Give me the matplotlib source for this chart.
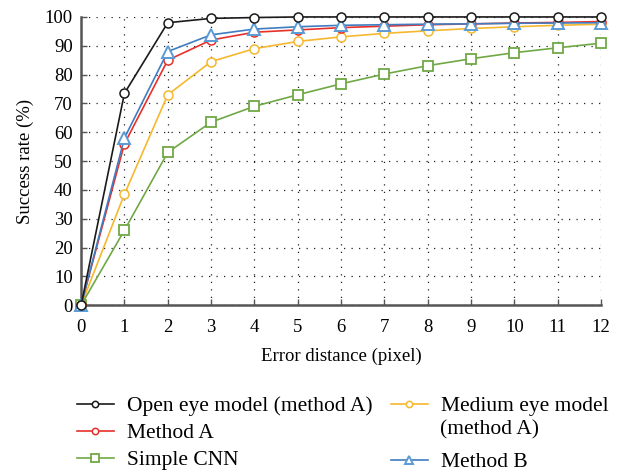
import matplotlib
matplotlib.use("Agg")
import matplotlib.pyplot as plt

plt.rcParams['font.family'] = ['Liberation Serif', 'DejaVu Serif']

x = list(range(13))
open_eye = [0, 73.5, 98, 99.5, 99.8, 100, 100, 100, 100, 100, 100, 100, 100]
method_a = [0, 56, 85, 92, 94.7, 95.5, 96.3, 96.8, 97.3, 97.6, 97.9, 98.1, 98.4]
simple_cnn = [0, 26, 53, 63.5, 69, 73, 76.8, 80.2, 83.1, 85.5, 87.6, 89.3, 90.9]
medium_eye = [0, 38.5, 73, 84.5, 89, 91.5, 93.1, 94.3, 95.2, 96, 96.6, 97.1, 97.5]
method_b = [0, 58, 88, 93.8, 95.8, 96.6, 97.1, 97.3, 97.5, 97.6, 97.8, 97.9, 98]

labels_col1 = ["Open eye model (method A)", "Method A", "Simple CNN"]
label_medium = "Medium eye model"
label_medium_2 = "(method A)"
label_b = "Method B"

W, H = 619, 471
fig = plt.figure(figsize=(W / 100, H / 100), dpi=100)
ax = fig.add_axes([0.131, 0.352, 0.840, 0.612])

lw = 1.2
h_open, = ax.plot(x, open_eye, color='#1a1a1a', lw=lw, marker='o', ms=6.5,
                  mfc='white', mec='#1a1a1a', mew=1.1, clip_on=False, zorder=6)
h_med, = ax.plot(x, medium_eye, color='#f5b82e', lw=lw, marker='o', ms=6.5,
                 mfc='white', mec='#f5b82e', mew=1.1, clip_on=False, zorder=3)
h_cnn, = ax.plot(x, simple_cnn, color='#70a845', lw=lw, marker='s', ms=7.5,
                 mfc='white', mec='#70a845', mew=1.3, clip_on=False, zorder=3)
h_a, = ax.plot(x, method_a, color='#e8302a', lw=lw, marker='o', ms=6.5,
               mfc='white', mec='#e8302a', mew=1.1, clip_on=False, zorder=4)
h_b, = ax.plot(x, method_b, color='#3f7dc0', lw=lw, marker='^', ms=8.5,
               mfc='white', mec='#5b9bd5', mew=1.4, clip_on=False, zorder=5)

ax.set_xlim(0, 12)
ax.set_ylim(0, 100)
ax.set_xticks(x)
ax.set_yticks(range(0, 101, 10))
ax.grid(True, linestyle=(0, (1, 5)), color='#222222', lw=0.9)
ax.set_axisbelow(True)
for s in ['top', 'right']:
    ax.spines[s].set_visible(False)
for s in ['left', 'bottom']:
    ax.spines[s].set_color('#555555')
    ax.spines[s].set_linewidth(1.8)
ax.tick_params(direction='in', length=4, width=1, color='#555555',
               labelsize=13.5)
ax.tick_params(axis='x', pad=10)
ax.tick_params(axis='y', pad=6)
ax.set_xlabel("Error distance (pixel)", fontsize=13.5, labelpad=8)
ax.set_ylabel("Success rate (%)", fontsize=13.5, labelpad=8)

leg_kw = dict(loc='upper left', frameon=False, borderpad=0, borderaxespad=0,
              fontsize=15.5, handlelength=1.7, handletextpad=0.6,
              labelspacing=0.33, markerscale=0.7)

fig.legend([h_open, h_a, h_cnn], labels_col1,
           bbox_to_anchor=(77 / W, 1 - 396 / H), **leg_kw)
fig.legend([h_med], [label_medium],
           bbox_to_anchor=(391 / W, 1 - 396 / H), **leg_kw)
fig.legend([h_b], [label_b],
           bbox_to_anchor=(391 / W, 1 - 452 / H), **leg_kw)
fig.text(440 / W, 1 - 430 / H, label_medium_2, fontsize=15.5,
         ha='left', va='center')

fig.savefig("out.png", dpi=100)
